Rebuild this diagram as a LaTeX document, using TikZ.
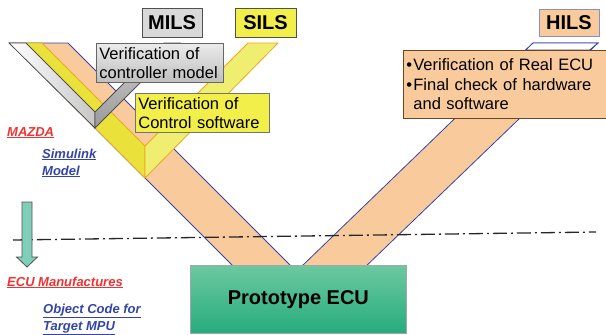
\documentclass[tikz,border=0pt]{standalone}
\usepackage{fontspec}
\setmainfont{Liberation Sans}
\definecolor{peach}{HTML}{F9CB9C}
\definecolor{vblue}{HTML}{3344AA}
\definecolor{yelL}{HTML}{EAE23A}
\definecolor{yelR}{HTML}{F0EE70}
\definecolor{yelO}{HTML}{E8A820}
\definecolor{boxY}{HTML}{F2EE4A}
\definecolor{grayO}{HTML}{505050}
\definecolor{mazred}{HTML}{EE3333}
\definecolor{teal1}{HTML}{7FCFB8}
\definecolor{gTop}{HTML}{6CC8A0}
\definecolor{gBot}{HTML}{26AC7C}
\tikzset{
  lbl/.style={draw=grayO, line width=0.8pt, inner sep=0pt, font=\fontsize{20}{24}\selectfont\bfseries},
  vbox/.style={line width=0.8pt, inner sep=3pt, align=left, anchor=north west, font=\fontsize{16.5}{19.5}\selectfont},
  side/.style={anchor=base west, inner sep=0pt, font=\fontsize{13}{17}\selectfont\bfseries\itshape},
}
\begin{document}
\begin{tikzpicture}[x=1pt,y=-1pt]
\useasboundingbox (0,0) rectangle (606,335);
% orange V
\draw[fill=peach, draw=vblue, line width=0.8pt]
  (10,43) -- (68,43) -- (296.4,271.4) -- (533,43) -- (598,43) -- (298.3,331.3) -- cycle;
\draw[fill=white, draw=vblue, line width=0.8pt]
  (533,43) -- (598,43) -- (589.7,50) -- (525.7,50) -- cycle;
% dash-dot line
\coordinate (dl) at (13,240);
\coordinate (dr) at (596,232);
\draw[line width=1.3pt, black!85, dash pattern=on 14pt off 4pt on 2pt off 4pt] (dl) -- (dr);
% yellow V
\draw[fill=yelL, draw=yelO, line width=0.8pt, line join=round]
  (10,43) -- (42,43) -- (145,146) -- (145,178) -- cycle;
\draw[fill=yelR, draw=yelO, line width=0.8pt, line join=round]
  (145,146) -- (248,43) -- (278,43) -- (145,178) -- cycle;
% gray V
\shade[left color=white, right color=black!22, draw=grayO, line width=0.8pt]
  (9,43) -- (26,43) -- (95,112) -- (95,128) -- cycle;
\shade[top color=black!18, bottom color=black!40, draw=grayO, line width=0.8pt]
  (95,112) -- (164,43) -- (180,43) -- (95,128) -- cycle;
% verification boxes
\node (v1) [vbox, draw=black!60, top color=black!8, bottom color=black!25,
  minimum width=127pt, minimum height=39pt, text width=121pt] at (96,43)
  {Verification of\\controller model};
\node (v2) [vbox, draw=black!55, fill=boxY,
  minimum width=134pt, minimum height=39pt, text width=128pt] at (135,93)
  {Verification of\\Control software};
\node (v3) [vbox, draw=black!45!brown, fill=peach,
  minimum width=204pt, minimum height=68pt, text width=198pt] at (403,50)
  {\makebox[7pt][l]{•}Verification of Real ECU\\\makebox[7pt][l]{•}Final check of hardware\\\hspace*{7pt}and software};
% labels
\node (mils) [lbl, fill=black!15, minimum width=60pt, minimum height=29pt] at (172,22.5) {MILS};
\node (sils) [lbl, fill=boxY, minimum width=61pt, minimum height=29pt] at (265.5,22.5) {SILS};
\node (hils) [lbl, draw=vblue!60, fill=peach, minimum width=60pt, minimum height=27pt] at (569,22.5) {HILS};
% prototype ECU
\node (ecu) [draw=black!35, top color=gTop, bottom color=gBot, line width=0.8pt,
  minimum width=216pt, minimum height=68pt, anchor=north west,
  font=\fontsize{20}{24}\selectfont\bfseries] at (190,265) {Prototype ECU};
% arrow
\draw[fill=teal1, draw=grayO, line width=0.8pt]
  (22,202) -- (32,202) -- (32,257) -- (37.5,257) -- (27,267) -- (16.5,257) -- (22,257) -- cycle;
% side texts
\node (maz) [side, text=mazred] at (7,136) {\underline{MAZDA}};
\node (sim1) [side, text=vblue] at (42,158) {\underline{Simulink}};
\node (sim2) [side, text=vblue] at (42,175) {\underline{Model}};
\node (ecm) [side, text=mazred] at (7,286) {\underline{ECU Manufactures}};
\node (obj1) [side, text=vblue] at (43,313) {\underline{Object Code for}};
\node (obj2) [side, text=vblue] at (43,330) {\underline{Target MPU}};
\end{tikzpicture}
\end{document}
